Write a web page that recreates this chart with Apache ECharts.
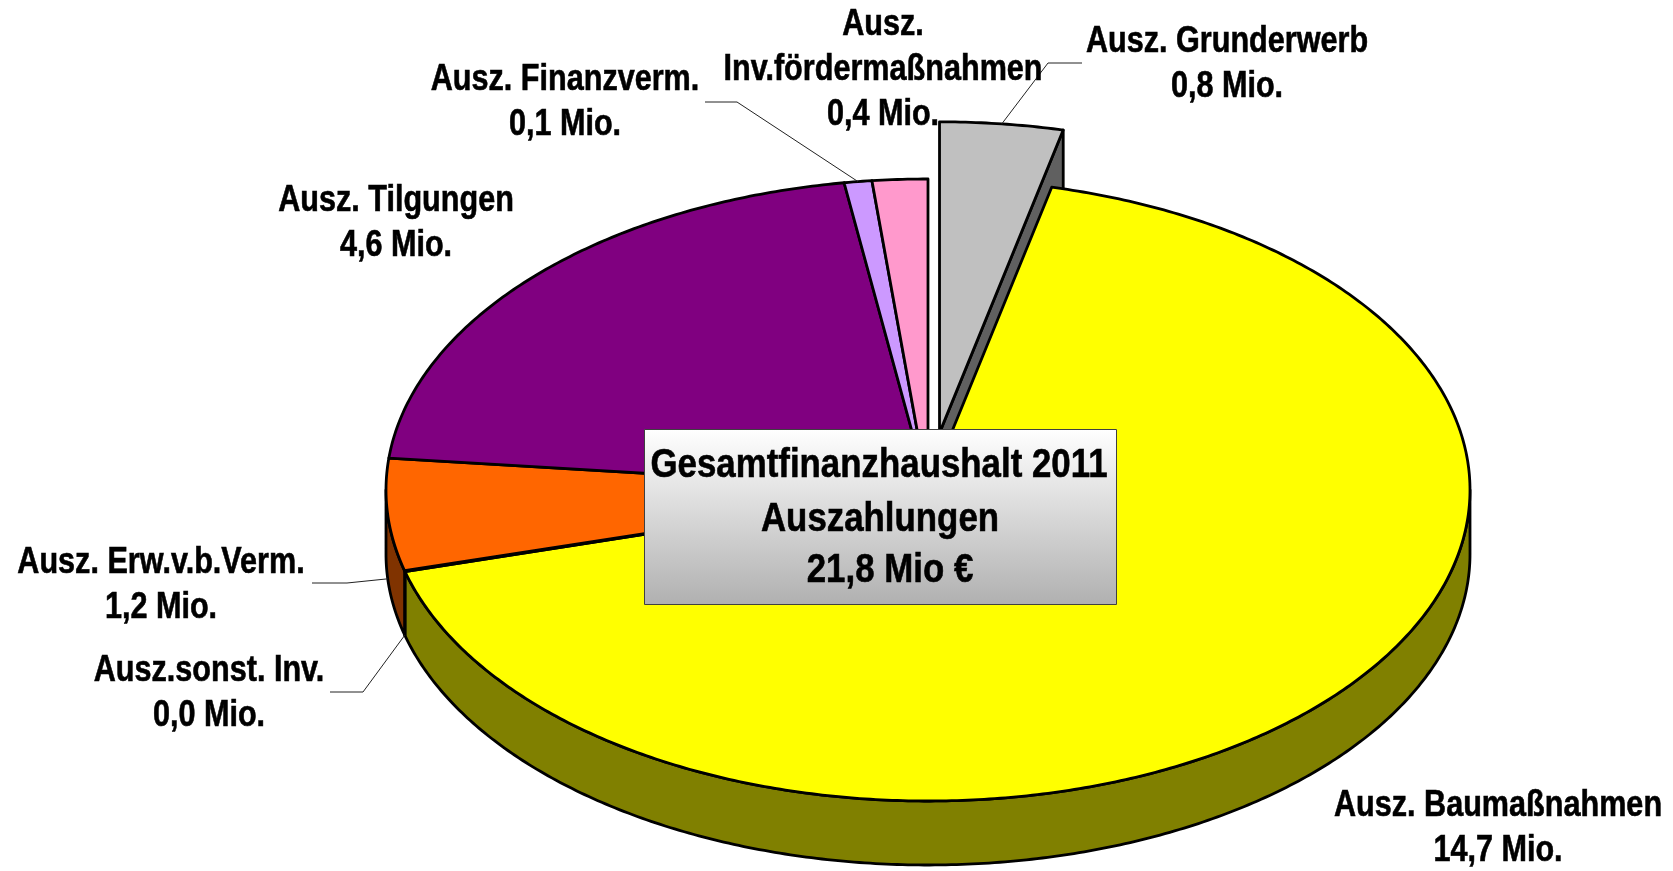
<!DOCTYPE html>
<html>
<head>
<meta charset="utf-8">
<style>
  html,body{margin:0;padding:0;background:#fff}
  #chart{width:1673px;height:871px}
</style>
<script src="https://cdn.jsdelivr.net/npm/echarts@6/dist/echarts.min.js"></script>
</head>
<body>
<div id="chart"></div>
<script>
// data, clockwise from 12 o'clock
const categories=['Ausz. Grunderwerb','Ausz. Baumaßnahmen','Ausz.sonst. Inv.','Ausz. Erw.v.b.Verm.','Ausz. Tilgungen','Ausz. Finanzverm.','Ausz.\nInv.fördermaßnahmen']
const values=[0.8,14.65,0.01,1.27,4.56,0.18,0.36]
const valueLabels=['0,8 Mio.','14,7 Mio.','0,0 Mio.','1,2 Mio.','4,6 Mio.','0,1 Mio.','0,4 Mio.']
const titleLines=['Gesamtfinanzhaushalt 2011','Auszahlungen','21,8 Mio €']

// styles
const topColors=['#C0C0C0','#FFFF00','#993366','#FF6600','#800080','#CC99FF','#FF99CC']
const wallColors=['#606060','#808000','#4d1a33','#803300','#400040','#664d80','#804d66']
const explode=[0.185,0,0,0,0,0,0]

// layout
const CX=928,CY=490,RX=542,RY=311,DEPTH=64
const FONT='"Liberation Sans",Arial,sans-serif'
const TEXT_SCALE=0.85
const labelPos=[[1227,65],[1498,829],[209,694],[161,586],[396,224],[565,103],[883,70]]
// label side of each leader: start x, elbow x, y (null = no leader)
const leaderPos=[[1082,1048,63],null,[330,363,692],[312,347,583],null,[705,737,102],null]

const total=values.reduce((a,b)=>a+b,0)
const rad=v=>v/total*Math.PI*2
const slices=[]
let acc=0
values.forEach((v,i)=>{
  const a0=rad(acc),a1=rad(acc+v),mid=(a0+a1)/2
  slices.push({
    a0,a1,mid,
    cx:CX+RX*explode[i]*Math.sin(mid),
    cy:CY-RY*explode[i]*Math.cos(mid)
  })
  acc+=v
})
const rimPoint=(s,a,dz)=>[s.cx+RX*Math.sin(a),s.cy-RY*Math.cos(a)+(dz||0)]
function arc(s,a0,a1,dz){
  const n=Math.max(2,Math.ceil((a1-a0)/0.01))
  const pts=[]
  for(let k=0;k<=n;k++)pts.push(rimPoint(s,a0+(a1-a0)*k/n,dz))
  return pts
}

const edge={stroke:'#000',lineWidth:2.8,lineJoin:'round'}

function renderSlice(params,api){
  const i=api.value(0)
  const s=slices[i]
  const children=[]
  // side wall on the front half of the rim
  const w0=Math.max(s.a0,Math.PI/2),w1=Math.min(s.a1,Math.PI*1.5)
  if(w1>w0){
    children.push({
      type:'polygon',z2:2,
      shape:{points:arc(s,w0,w1,0).concat(arc(s,w0,w1,DEPTH).reverse())},
      style:{fill:wallColors[i],...edge}
    })
  }
  // cut face of the exploded slice
  if(explode[i]>0){
    const apex=[s.cx,s.cy],rim=rimPoint(s,s.a1,0)
    children.push({
      type:'polygon',z2:1,
      shape:{points:[apex,rim,[rim[0],rim[1]+DEPTH],[apex[0],apex[1]+DEPTH]]},
      style:{fill:wallColors[i],...edge}
    })
  }
  children.push({
    type:'polygon',z2:3,
    shape:{points:[[s.cx,s.cy]].concat(arc(s,s.a0,s.a1,0))},
    style:{fill:topColors[i],...edge}
  })
  return {type:'group',children}
}

function renderLabel(params,api){
  const i=api.value(0)
  const s=slices[i]
  const children=[{
    type:'text',z2:6,
    x:labelPos[i][0],y:labelPos[i][1],
    scaleX:TEXT_SCALE,
    style:{
      text:categories[i]+'\n'+valueLabels[i],
      font:'bold 36px '+FONT,
      lineHeight:45,
      fill:'#000',
      stroke:'#000',
      lineWidth:0.6,
      align:'center',
      verticalAlign:'middle'
    }
  }]
  if(leaderPos[i]){
    const l=leaderPos[i]
    // front slices are hit on the lower rim
    const dz=(s.mid>Math.PI/2&&s.mid<Math.PI*1.5)?DEPTH:0
    children.push({
      type:'polyline',z2:5,
      shape:{points:[[l[0],l[2]],[l[1],l[2]],rimPoint(s,s.mid,dz)]},
      style:{stroke:'#222',lineWidth:1,fill:null}
    })
  }
  return {type:'group',children}
}

const ids=values.map((v,i)=>[i,v])
const chart=echarts.init(document.getElementById('chart'),null,{renderer:'canvas'})
chart.setOption({
  animation:false,
  backgroundColor:'#fff',
  series:[
    {type:'custom',coordinateSystem:'none',silent:true,z:2,data:ids,renderItem:renderSlice},
    {type:'custom',coordinateSystem:'none',silent:true,z:3,data:ids,renderItem:renderLabel}
  ],
  graphic:[
    {
      type:'rect',z:10,silent:true,
      shape:{x:644.5,y:429.5,width:472,height:175},
      style:{
        stroke:'#404040',lineWidth:1,
        fill:{type:'linear',x:0,y:0,x2:0,y2:1,colorStops:[{offset:0,color:'#fff'},{offset:1,color:'#b0b0b0'}]}
      }
    },
    ...titleLines.map((t,k)=>({
      type:'text',z:11,silent:true,
      x:[879,880,890][k],y:[466,520,571][k],
      scaleX:TEXT_SCALE,
      style:{text:t,font:'bold 41px '+FONT,fill:'#000',stroke:'#000',lineWidth:0.6,align:'center',verticalAlign:'middle'}
    }))
  ]
})
</script>
</body>
</html>
